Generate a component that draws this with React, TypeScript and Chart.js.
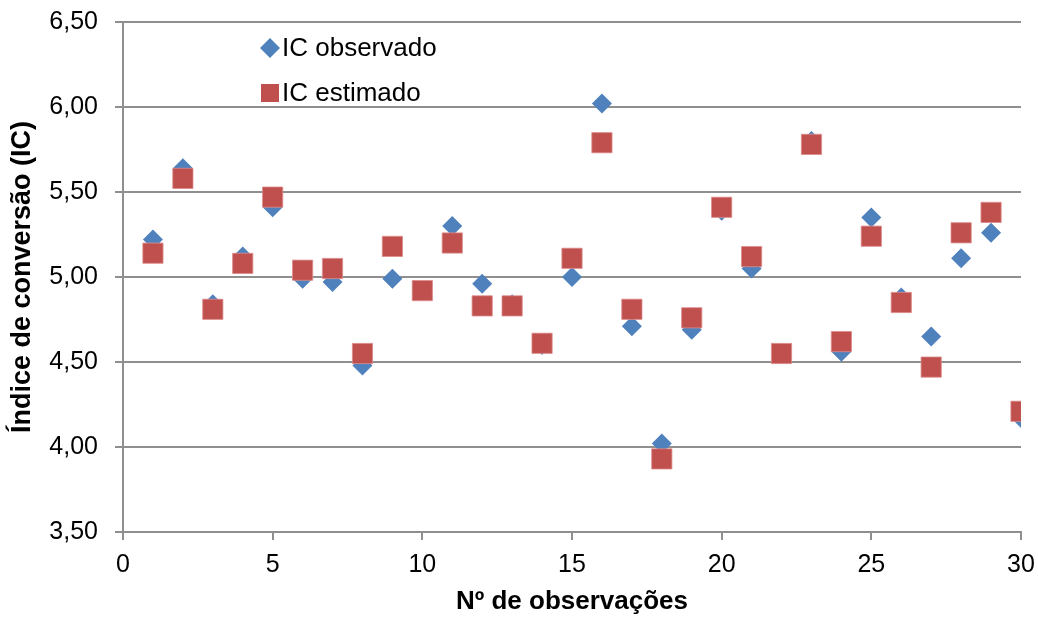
import React, { useEffect, useRef } from "react";
import { Chart, registerables } from "chart.js";

Chart.register(...registerables);

const observations = [
  1, 2, 3, 4, 5, 6, 7, 8, 9, 10, 11, 12, 13, 14, 15, 16, 17, 18, 19, 20, 21, 22, 23, 24, 25, 26, 27, 28, 29, 30,
];
const icObservado = [
  5.22, 5.64, 4.84, 5.12, 5.41, 4.99, 4.97, 4.48, 4.99, 4.92, 5.3, 4.96, 4.84, 4.6, 5.0, 6.02, 4.71, 4.02, 4.69,
  5.39, 5.05, 4.55, 5.8, 4.56, 5.35, 4.88, 4.65, 5.11, 5.26, 4.17,
];
const icEstimado = [
  5.14, 5.58, 4.81, 5.08, 5.47, 5.04, 5.05, 4.55, 5.18, 4.92, 5.2, 4.83, 4.83, 4.61, 5.11, 5.79, 4.81, 3.93, 4.76,
  5.41, 5.12, 4.55, 5.78, 4.62, 5.24, 4.85, 4.47, 5.26, 5.38, 4.21,
];
const seriesLabels = ["IC observado", "IC estimado"];
const xTitle = "Nº de observações";
const yTitle = "Índice de conversão (IC)";

const FONT = '"Liberation Sans", Arial, sans-serif';
const BLUE = "#4F81BD";
const RED = "#C0504D";

const legendPlugin = {
  id: "insideLegend",
  afterDraw(chart: any) {
    const { ctx, chartArea } = chart;
    const x0 = chartArea.left + 147;
    const rows = [chartArea.top + 26, chartArea.top + 71];
    ctx.save();
    chart.data.datasets.forEach((ds: any, i: number) => {
      const y = rows[i];
      ctx.fillStyle = ds.backgroundColor;
      ctx.beginPath();
      if (ds.pointStyle === "rectRot") {
        const r = 10;
        ctx.moveTo(x0 - r, y);
        ctx.lineTo(x0, y - r);
        ctx.lineTo(x0 + r, y);
        ctx.lineTo(x0, y + r);
        ctx.closePath();
      } else {
        ctx.rect(x0 - 9, y - 9, 18, 18);
      }
      ctx.fill();
      ctx.fillStyle = "#000";
      ctx.font = `26px ${FONT}`;
      ctx.textBaseline = "middle";
      ctx.textAlign = "left";
      ctx.fillText(ds.label, x0 + 12, y + 1);
    });
    ctx.restore();
  },
};

export default function App() {
  const ref = useRef<HTMLCanvasElement | null>(null);

  useEffect(() => {
    if (!ref.current) return;
    const chart = new Chart(ref.current, {
      type: "scatter",
      data: {
        datasets: [
          {
            label: seriesLabels[0],
            data: observations.map((x, i) => ({ x, y: icObservado[i] })),
            backgroundColor: BLUE,
            borderColor: BLUE,
            borderWidth: 0,
            pointStyle: "rectRot",
            pointRadius: 10,
            pointHoverRadius: 10,
            order: 2,
          },
          {
            label: seriesLabels[1],
            data: observations.map((x, i) => ({ x, y: icEstimado[i] })),
            backgroundColor: RED,
            borderColor: "rgba(220,140,140,0.8)",
            borderWidth: 1,
            pointStyle: "rect",
            pointRadius: 14.3,
            pointHoverRadius: 14.3,
            order: 1,
          },
        ],
      },
      options: {
        animation: false,
        responsive: false,
        maintainAspectRatio: false,
        layout: { padding: { top: 22, right: 17, left: 0, bottom: 0 } },
        plugins: {
          legend: { display: false },
          tooltip: { enabled: false },
        },
        scales: {
          x: {
            type: "linear",
            min: 0,
            max: 30,
            afterFit: (s: any) => {
              s.height = 85;
              s.paddingLeft = 0;
              s.paddingRight = 0;
            },
            ticks: {
              stepSize: 5,
              color: "#000",
              font: { family: FONT, size: 25 },
              padding: 10,
              maxRotation: 0,
            },
            grid: {
              drawOnChartArea: false,
              drawTicks: true,
              tickLength: 8,
              color: "#8f8f8f",
              lineWidth: 2,
            },
            border: { display: true, color: "#8f8f8f", width: 2 },
            title: {
              display: true,
              text: xTitle,
              color: "#000",
              font: { family: FONT, size: 26, weight: "bold" },
              padding: { top: 0, bottom: 0 },
            },
          },
          y: {
            type: "linear",
            min: 3.5,
            max: 6.5,
            afterFit: (s: any) => {
              s.width = 123;
              s.paddingTop = 0;
              s.paddingBottom = 0;
            },
            ticks: {
              stepSize: 0.5,
              color: "#000",
              font: { family: FONT, size: 25 },
              padding: 17,
              callback: (v: any) => Number(v).toFixed(2).replace(".", ","),
            },
            grid: {
              drawTicks: true,
              tickLength: 8,
              color: "#8f8f8f",
              lineWidth: 2,
            },
            border: { display: true, color: "#8f8f8f", width: 2 },
            title: {
              display: true,
              text: yTitle,
              color: "#000",
              font: { family: FONT, size: 27, weight: "bold" },
              padding: { top: 6, bottom: 0 },
            },
          },
        },
      },
      plugins: [legendPlugin],
    });
    return () => chart.destroy();
  }, []);

  return (
    <div style={{ position: "fixed", left: 0, top: 0, width: 1038, height: 617, background: "#fff" }}>
      <canvas ref={ref} width={1038} height={617} style={{ width: 1038, height: 617, display: "block" }} />
    </div>
  );
}
